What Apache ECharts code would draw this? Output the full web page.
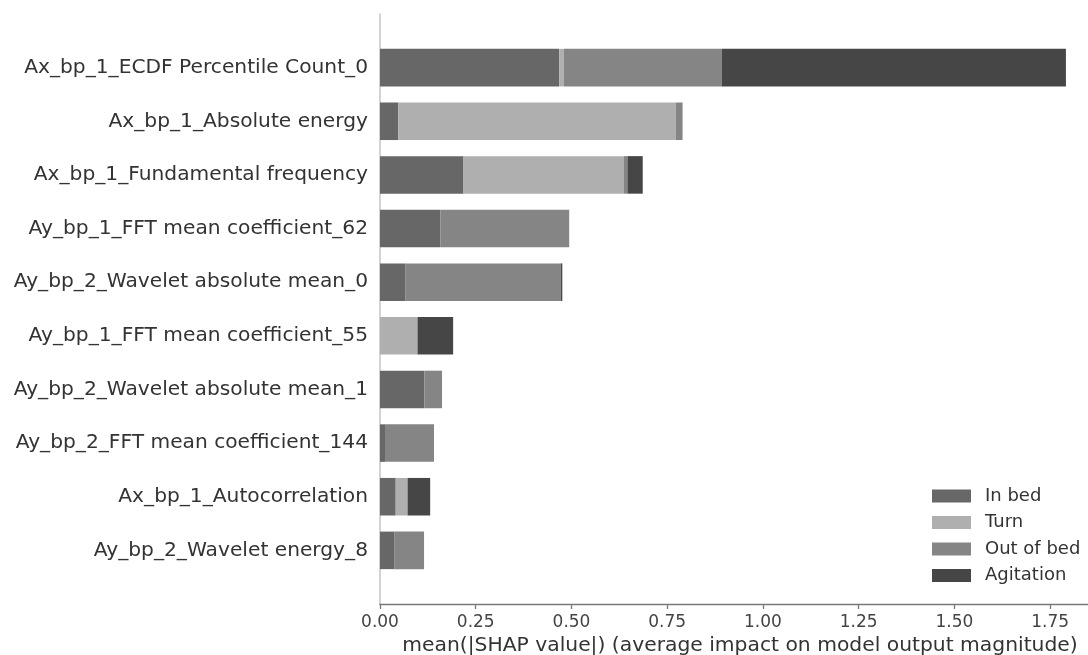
<!DOCTYPE html>
<html>
<head>
<meta charset="utf-8">
<title>mean(|SHAP value|) by feature</title>
<script src="https://cdn.jsdelivr.net/npm/echarts@6/dist/echarts.min.js"></script>
<style>
  html, body { margin: 0; padding: 0; background: #ffffff; }
  #chart { width: 1088px; height: 655px; }
</style>
</head>
<body>
<div id="chart"></div>
<script>
// Features, top to bottom
const features = [
  'Ax_bp_1_ECDF Percentile Count_0',
  'Ax_bp_1_Absolute energy',
  'Ax_bp_1_Fundamental frequency',
  'Ay_bp_1_FFT mean coefficient_62',
  'Ay_bp_2_Wavelet absolute mean_0',
  'Ay_bp_1_FFT mean coefficient_55',
  'Ay_bp_2_Wavelet absolute mean_1',
  'Ay_bp_2_FFT mean coefficient_144',
  'Ax_bp_1_Autocorrelation',
  'Ay_bp_2_Wavelet energy_8'
];

// mean(|SHAP|) per class for each feature
const inBed     = [0.468, 0.048, 0.218, 0.158, 0.067, 0.000, 0.116, 0.013, 0.041, 0.037];
const turn      = [0.012, 0.724, 0.419, 0.000, 0.000, 0.098, 0.000, 0.000, 0.031, 0.000];
const outOfBed  = [0.412, 0.018, 0.009, 0.336, 0.405, 0.000, 0.046, 0.128, 0.000, 0.078];
const agitation = [0.899, 0.000, 0.040, 0.000, 0.004, 0.093, 0.000, 0.000, 0.059, 0.000];

const classNames = ['In bed', 'Turn', 'Out of bed', 'Agitation'];
const classColors = ['#676767', '#afafaf', '#858585', '#464646'];

const xTicks = [0, 0.25, 0.5, 0.75, 1.0, 1.25, 1.5, 1.75];
const xTitle = 'mean(|SHAP value|) (average impact on model output magnitude)';

// one empty slot above and below the rows, so the axis spans ylim(-1, n)
const cats = [''].concat(features, ['']);
const pad = arr => [null].concat(arr, [null]);

const FONT = 'DejaVu Sans';
const chart = echarts.init(document.getElementById('chart'), null, { renderer: 'canvas' });

chart.setOption({
  animation: false,
  backgroundColor: '#ffffff',
  textStyle: { fontFamily: FONT },
  // the x range runs a little past the right edge of the canvas
  grid: { left: 380, right: -12, top: 14, bottom: 51, outerBoundsMode: 'none', containLabel: false },
  legend: {
    orient: 'vertical',
    left: 927,
    top: 482,
    icon: 'rect',
    itemWidth: 39,
    itemHeight: 13,
    itemGap: 8.5,
    data: classNames,
    textStyle: { fontFamily: FONT, fontSize: 18, color: '#333333', lineHeight: 18, padding: [0, 0, 0, 9] }
  },
  xAxis: {
    type: 'value',
    min: 0,
    max: 1.88,
    name: xTitle,
    nameLocation: 'middle',
    nameGap: 29,
    nameTextStyle: { fontFamily: FONT, fontSize: 20.3, color: '#333333' },
    axisLine: { show: true, lineStyle: { color: '#777777', width: 1.3 } },
    axisTick: { show: true, length: 5, lineStyle: { color: '#777777', width: 1.3 }, customValues: xTicks },
    axisLabel: {
      fontFamily: FONT, fontSize: 17, color: '#444444', margin: 10,
      customValues: xTicks,
      formatter: v => v.toFixed(2)
    },
    splitLine: { show: false }
  },
  yAxis: {
    type: 'category',
    data: cats,
    inverse: true,
    boundaryGap: false,
    axisLine: { show: true, onZero: false, lineStyle: { color: '#c4c4c4', width: 1.5 } },
    axisTick: { show: false },
    axisLabel: { fontFamily: FONT, fontSize: 20.2, color: '#333333', margin: 12 },
    splitLine: { show: false }
  },
  series: [inBed, turn, outOfBed, agitation].map((vals, i) => ({
    name: classNames[i],
    type: 'bar',
    stack: 'shap',
    data: pad(vals),
    barWidth: '70%',
    itemStyle: { color: classColors[i] },
    emphasis: { disabled: true }
  }))
});
</script>
</body>
</html>
